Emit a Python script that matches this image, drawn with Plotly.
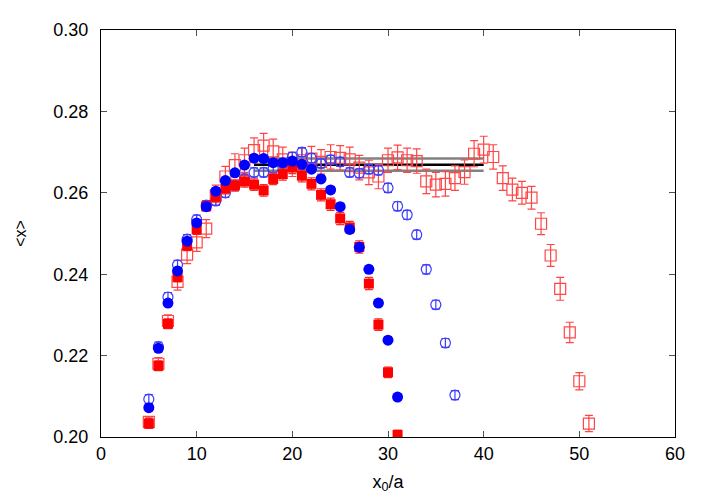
import plotly.graph_objects as go

# x0/a positions
x_filled = list(range(5, 32))
x_blue_open = list(range(5, 38))
x_red_open = list(range(5, 52))

# filled blue circles
blue_filled = [0.2072, 0.2218, 0.2329, 0.2408, 0.2481, 0.2526, 0.2566, 0.2604, 0.2630,
               0.2649, 0.2668, 0.2685, 0.2684, 0.2674, 0.2674, 0.2678, 0.2670, 0.2658,
               0.2634, 0.2607, 0.2566, 0.2510, 0.2466, 0.2412, 0.2329, 0.2238, 0.2098]
blue_filled_err = [0.0008] * 27

# filled red squares
red_filled = [0.2033, 0.2175, 0.2278, 0.2393, 0.2470, 0.2510, 0.2567, 0.2590, 0.2610,
              0.2618, 0.2628, 0.2620, 0.2606, 0.2634, 0.2646, 0.2662, 0.2642, 0.2622,
              0.2595, 0.2572, 0.2537, 0.2515, 0.2467, 0.2377, 0.2276, 0.2159, 0.2005]
red_filled_err = [0.0012, 0.0012, 0.0012, 0.0012, 0.0012, 0.0012, 0.0012, 0.0013, 0.0013,
                  0.0014, 0.0014, 0.0014, 0.0014, 0.0014, 0.0015, 0.0015, 0.0015, 0.0015,
                  0.0015, 0.0015, 0.0015, 0.0015, 0.0015, 0.0015, 0.0014, 0.0013, 0.0012]

# open blue circles
blue_open = [0.2093, 0.2222, 0.2344, 0.2423, 0.2486, 0.2534, 0.2570, 0.2580, 0.2600,
             0.2618, 0.2635, 0.2650, 0.2650, 0.2660, 0.2672, 0.2688, 0.2700, 0.2685,
             0.2672, 0.2681, 0.2676, 0.2650, 0.2648, 0.2658, 0.2655, 0.2612, 0.2567,
             0.2546, 0.2497, 0.2412, 0.2325, 0.2231, 0.2103]
blue_open_err = [0.0011] * 33

# open red squares
red_open = [0.2037, 0.2180, 0.2285, 0.2381, 0.2448, 0.2478, 0.2512, 0.2594, 0.2640,
            0.2668, 0.2680, 0.2705, 0.2716, 0.2702, 0.2682, 0.2670, 0.2680, 0.2684,
            0.2676, 0.2688, 0.2686, 0.2682, 0.2662, 0.2650, 0.2640, 0.2680, 0.2687,
            0.2680, 0.2678, 0.2628, 0.2620, 0.2622, 0.2636, 0.2651, 0.2696, 0.2706,
            0.2688, 0.2636, 0.2608, 0.2600, 0.2588, 0.2524, 0.2446, 0.2364, 0.2257,
            0.2137, 0.2033]
red_open_err = [0.0012, 0.0015, 0.0015, 0.0020, 0.0022, 0.0022, 0.0022, 0.0025, 0.0025,
                0.0028, 0.0030, 0.0030, 0.0030, 0.0030, 0.0030, 0.0030, 0.0030, 0.0030,
                0.0030, 0.0030, 0.0030, 0.0030, 0.0030, 0.0030, 0.0030, 0.0030, 0.0030,
                0.0030, 0.0030, 0.0030, 0.0030, 0.0030, 0.0030, 0.0030, 0.0032, 0.0033,
                0.0030, 0.0030, 0.0028, 0.0028, 0.0028, 0.0027, 0.0027, 0.0028, 0.0025,
                0.0021, 0.0020]

# plateau fit
fit_range = [16, 40]
fit_value = 0.2669
fit_err = 0.0015

font = 'Liberation Sans, Arial, sans-serif'

fig = go.Figure()

for v, col, w in [(fit_value + fit_err, 'rgb(130,130,130)', 2.5),
                  (fit_value - fit_err, 'rgb(130,130,130)', 2.5),
                  (fit_value, 'black', 2.5)]:
    fig.add_trace(go.Scatter(x=fit_range, y=[v, v], mode='lines',
                             line=dict(color=col, width=w), hoverinfo='skip'))

fig.add_trace(go.Scatter(
    x=x_red_open, y=red_open, mode='markers',
    marker=dict(symbol='square-open', size=11, color='rgb(255,70,70)', line=dict(width=1.2)),
    error_y=dict(type='data', array=red_open_err, color='rgb(255,70,70)', thickness=1.2, width=4),
))
fig.add_trace(go.Scatter(
    x=x_blue_open, y=blue_open, mode='markers',
    marker=dict(symbol='circle-open', size=10, color='rgb(60,60,255)', line=dict(width=1.2)),
    error_y=dict(type='data', array=blue_open_err, color='rgb(60,60,255)', thickness=1.2, width=4),
))
fig.add_trace(go.Scatter(
    x=x_filled, y=red_filled, mode='markers',
    marker=dict(symbol='square', size=10, color='rgb(255,0,0)'),
    error_y=dict(type='data', array=red_filled_err, color='rgb(255,40,40)', thickness=1.2, width=4),
))
fig.add_trace(go.Scatter(
    x=x_filled, y=blue_filled, mode='markers',
    marker=dict(symbol='circle', size=11, color='rgb(0,0,255)'),
    error_y=dict(type='data', array=blue_filled_err, color='rgb(40,40,255)', thickness=1.2, width=4),
))

# page body adds an 8px offset, margins compensate for it
fig.update_layout(
    width=708, height=496,
    margin=dict(l=91, r=41, t=14, b=67),
    plot_bgcolor='white', paper_bgcolor='white',
    showlegend=False,
    font=dict(family=font, size=18, color='black'),
)
fig.update_xaxes(
    range=[0, 60], tickvals=[0, 10, 20, 30, 40, 50, 60],
    showgrid=False, zeroline=False, showline=True, linecolor='black', linewidth=1,
    mirror='ticks', ticks='inside', ticklen=6, tickcolor='rgb(80,80,80)',
    title=dict(text='x<sub>0</sub>/a', standoff=12, font=dict(size=18)),
)
fig.update_yaxes(
    range=[0.20, 0.30], tickvals=[0.20, 0.22, 0.24, 0.26, 0.28, 0.30], tickformat='.2f',
    showgrid=False, zeroline=False, showline=True, linecolor='black', linewidth=1,
    mirror='ticks', ticks='inside', ticklen=6, tickcolor='rgb(80,80,80)',
    ticklabelstandoff=8,
    title=dict(text='<x>', standoff=22, font=dict(size=16)),
)

fig.write_html("out.html")
